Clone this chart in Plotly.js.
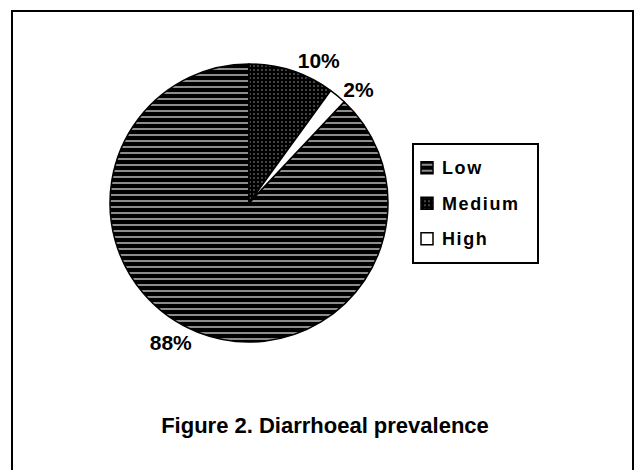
<!DOCTYPE html>
<html>
<head>
<meta charset="utf-8">
<script src="https://cdn.plot.ly/plotly-3.0.1.min.js"></script>
<style>
  html, body { margin: 0; padding: 0; background: #fff; }
  #chart { width: 637px; height: 470px; }
  .legendtext { font-size: 18px !important; letter-spacing: 1.6px; transform: translate(-12px, -3.5px); }
  .legendpoints { transform: translateX(-7px); }
</style>
</head>
<body>
<div id="chart"></div>
<script>
// Data
const categories = ["Low", "Medium", "High"];
const prevalence = [88, 10, 2];
const titleText = "Figure 2. Diarrhoeal prevalence";

const W = 637, H = 470;
const fontFam = "Liberation Sans, Arial, sans-serif";

const trace = {
  type: "pie",
  labels: categories,
  values: prevalence,
  sort: false,
  direction: "clockwise",
  rotation: 43.2,
  textinfo: "percent",
  textposition: "outside",
  textfont: { family: fontFam, size: 21, color: "#000", weight: "bold" },
  marker: {
    colors: ["#000000", "#000000", "#ffffff"],
    line: { color: "#000000", width: 1.5 },
    pattern: {
      shape: ["-", ".", ""],
      fgcolor: ["#8c8c8c", "#a0a0a0", "#000000"],
      bgcolor: ["#000000", "#000000", "#ffffff"],
      size: [6, 4, 6],
      solidity: [0.33, 0.12, 0.3],
      fillmode: "replace"
    }
  },
  domain: {
    x: [(249 - 139) / W, (249 + 139) / W],
    y: [1 - (203 + 139) / H, 1 - (203 - 139) / H]
  },
  hoverinfo: "none",
  showlegend: true
};

const layout = {
  width: W,
  height: H,
  margin: { l: 0, r: 0, t: 0, b: 0 },
  paper_bgcolor: "#ffffff",
  plot_bgcolor: "#ffffff",
  title: {
    text: titleText,
    x: 325 / W,
    xanchor: "center",
    y: 1 - 425 / H,
    yanchor: "middle",
    font: { family: fontFam, size: 22, color: "#000", weight: "bold" }
  },
  showlegend: true,
  legend: {
    x: 412 / W,
    xanchor: "left",
    y: 1 - 143 / H,
    yanchor: "top",
    bordercolor: "#000000",
    borderwidth: 2,
    bgcolor: "#ffffff",
    font: { family: fontFam, size: 25, color: "#000", weight: "bold" }
  },
  shapes: [{
    type: "rect",
    xref: "paper", yref: "paper",
    x0: 12 / W, x1: 633 / W,
    y0: -0.05, y1: 1 - 11 / H,
    line: { color: "#000000", width: 2 },
    fillcolor: "rgba(0,0,0,0)",
    layer: "below"
  }]
};

Plotly.newPlot("chart", [trace], layout, { displayModeBar: false, staticPlot: true });
</script>
</body>
</html>
